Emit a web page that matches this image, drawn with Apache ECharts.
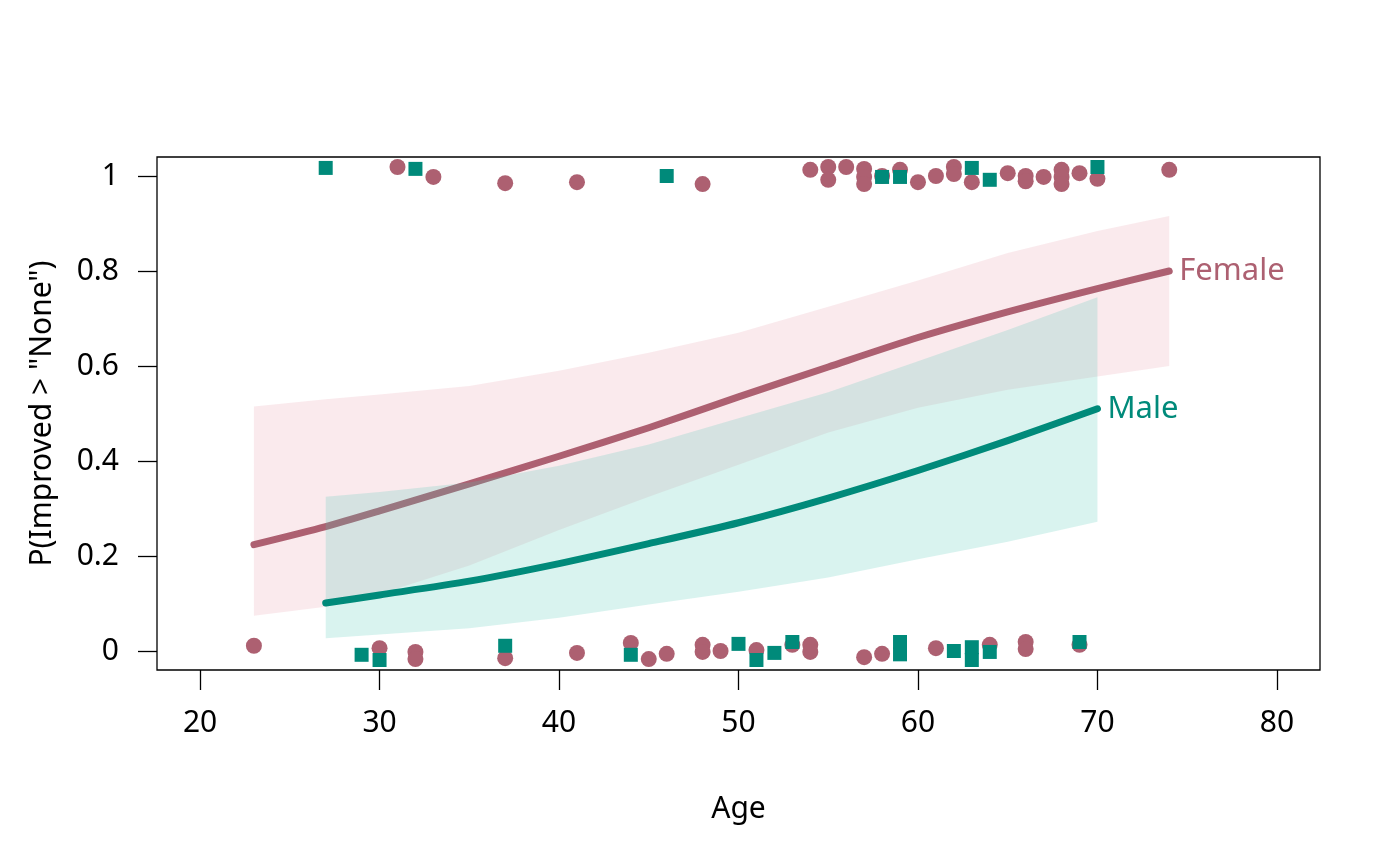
<!DOCTYPE html>
<html>
<head>
<meta charset="utf-8">
<script src="https://cdn.jsdelivr.net/npm/echarts@6/dist/echarts.min.js"></script>
<style>
html,body{margin:0;padding:0;background:#fff;}
#chart{width:1400px;height:866px;}
</style>
</head>
<body>
<div id="chart"></div>
<script>
// ---- data ----
const xTicks = [20, 30, 40, 50, 60, 70, 80];
const yTicks = [0, 0.2, 0.4, 0.6, 0.8, 1];

const femaleAges  = [23, 27, 30, 35, 40, 45, 50, 55, 60, 65, 70, 74];
const femaleFit   = [0.224, 0.262, 0.295, 0.352, 0.410, 0.470, 0.535, 0.598, 0.660, 0.714, 0.763, 0.800];
const femaleLower = [0.074, 0.093, 0.120, 0.180, 0.255, 0.325, 0.392, 0.460, 0.512, 0.550, 0.578, 0.600];
const femaleUpper = [0.515, 0.530, 0.540, 0.558, 0.590, 0.628, 0.670, 0.725, 0.780, 0.838, 0.884, 0.916];

const maleAges  = [27, 30, 35, 40, 45, 50, 55, 60, 65, 70];
const maleFit   = [0.101, 0.118, 0.147, 0.184, 0.226, 0.270, 0.322, 0.380, 0.443, 0.510];
const maleLower = [0.027, 0.035, 0.048, 0.070, 0.098, 0.125, 0.155, 0.193, 0.230, 0.272];
const maleUpper = [0.325, 0.335, 0.355, 0.390, 0.435, 0.490, 0.545, 0.610, 0.676, 0.745];

// jittered observations (age, jittered 0/1 outcome)
const femalePtsAge = [31, 33, 37, 41, 48, 54, 55, 55, 56, 57, 57, 57, 58, 59, 60, 61, 62, 62, 63, 65, 66, 66, 67, 68, 68, 68, 69, 70, 74,
                      23, 30, 32, 32, 37, 41, 44, 45, 46, 48, 48, 49, 51, 53, 54, 54, 57, 58, 61, 64, 66, 66, 69];
const femalePtsY   = [1.019, 0.998, 0.985, 0.987, 0.983, 1.013, 1.019, 0.992, 1.019, 1.015, 0.998, 0.983, 1.0, 1.013, 0.987, 1.0, 1.019, 1.004, 0.987, 1.006, 1.0, 0.989, 0.998, 1.013, 0.998, 0.983, 1.006, 0.994, 1.013,
                      0.011, 0.006, -0.002, -0.017, -0.015, -0.004, 0.017, -0.017, -0.006, 0.013, -0.002, 0.0, 0.002, 0.013, 0.013, -0.002, -0.013, -0.006, 0.006, 0.013, 0.019, 0.004, 0.013];
const malePtsAge = [27, 32, 46, 58, 59, 63, 64, 70,
                    29, 30, 37, 44, 50, 51, 52, 53, 59, 59, 62, 63, 63, 64, 69];
const malePtsY   = [1.017, 1.015, 1.0, 0.998, 0.998, 1.017, 0.992, 1.019,
                    -0.008, -0.019, 0.011, -0.008, 0.015, -0.019, -0.004, 0.019, 0.019, -0.007, 0.0, 0.008, -0.019, -0.002, 0.019];

// ---- styling ----
const FEMALE = '#AD6071';
const MALE = '#008A7A';
const FONT = 'Noto Sans';

function zip(a, b) { return a.map((v, i) => [v, b[i]]); }

function ribbon(ages, lo, hi, fill, z) {
  return {
    type: 'custom',
    z: z,
    clip: true,
    silent: true,
    data: ages.map((a, i) => [a, lo[i], hi[i]]),
    encode: { x: 0, y: [1, 2] },
    renderItem: function (params, api) {
      if (params.dataIndex !== 0) return null;
      const pts = [];
      for (let i = 0; i < ages.length; i++) pts.push(api.coord([ages[i], hi[i]]));
      for (let i = ages.length - 1; i >= 0; i--) pts.push(api.coord([ages[i], lo[i]]));
      return { type: 'polygon', shape: { points: pts, smooth: 0 }, style: { fill: fill } };
    }
  };
}

function fitLine(ages, fit, color, label, z) {
  return {
    type: 'line',
    z: z,
    data: zip(ages, fit),
    showSymbol: false,
    symbol: 'none',
    smooth: 0.25,
    silent: true,
    lineStyle: { color: color, width: 7, cap: 'round', join: 'round' },
    endLabel: {
      show: true,
      formatter: label,
      color: color,
      fontFamily: FONT,
      fontSize: 31,
      distance: 10
    }
  };
}

const chart = echarts.init(document.getElementById('chart'), null, { renderer: 'canvas' });

chart.setOption({
  animation: false,
  backgroundColor: '#fff',
  grid: {
    left: 157, right: 80, top: 157, bottom: 196,
    show: true, borderColor: '#000', borderWidth: 1.3, backgroundColor: 'transparent'
  },
  xAxis: {
    type: 'value',
    min: 17.6, max: 82.4,
    name: 'Age',
    nameLocation: 'middle',
    nameGap: 124,
    nameTextStyle: { fontFamily: FONT, fontSize: 30, color: '#000' },
    axisLine: { show: false, onZero: false },
    splitLine: { show: false },
    axisTick: { show: true, length: 20, inside: false, customValues: xTicks, lineStyle: { color: '#000', width: 1.3 } },
    axisLabel: { customValues: xTicks, fontFamily: FONT, fontSize: 30, color: '#000', margin: 38 }
  },
  yAxis: {
    type: 'value',
    min: -0.04, max: 1.04,
    name: 'P(Improved > "None")',
    nameLocation: 'middle',
    nameGap: 100,
    nameTextStyle: { fontFamily: FONT, fontSize: 30, color: '#000' },
    axisLine: { show: false, onZero: false },
    splitLine: { show: false },
    axisTick: { show: true, length: 19, inside: false, customValues: yTicks, lineStyle: { color: '#000', width: 1.3 } },
    axisLabel: { customValues: yTicks, fontFamily: FONT, fontSize: 30, color: '#000', margin: 38 }
  },
  series: [
    {
      type: 'scatter', z: 1, silent: true,
      data: zip(femalePtsAge, femalePtsY),
      symbol: 'circle', symbolSize: 16,
      itemStyle: { color: FEMALE, opacity: 1 }
    },
    {
      type: 'scatter', z: 1, silent: true,
      data: zip(malePtsAge, malePtsY),
      symbol: 'rect', symbolSize: 14,
      itemStyle: { color: MALE, opacity: 1 }
    },
    ribbon(femaleAges, femaleLower, femaleUpper, 'rgba(232,160,175,0.22)', 2),
    fitLine(femaleAges, femaleFit, FEMALE, 'Female', 3),
    ribbon(maleAges, maleLower, maleUpper, 'rgba(80,200,180,0.22)', 4),
    fitLine(maleAges, maleFit, MALE, 'Male', 5)
  ]
});
</script>
</body>
</html>
